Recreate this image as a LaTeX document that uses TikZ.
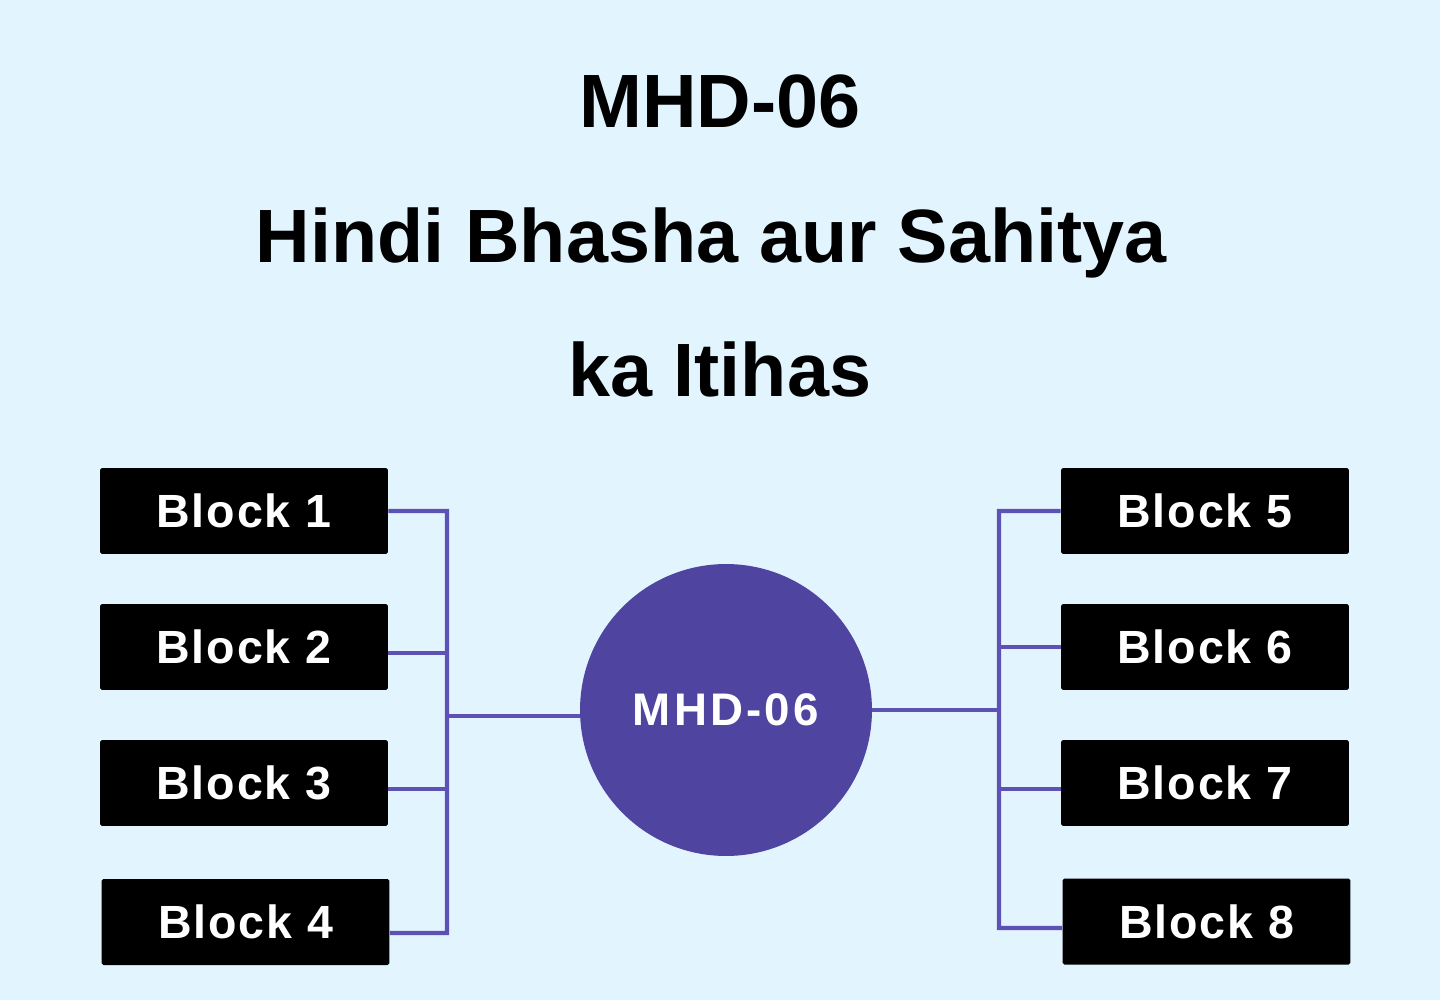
\documentclass[tikz,border=0pt]{standalone}
\usepackage{fontspec}
\setmainfont{Liberation Sans}
\newfontfamily\blockfont[LetterSpace=4]{Liberation Sans}
\newfontfamily\hubfont[LetterSpace=7]{Liberation Sans}

\definecolor{bgblue}{HTML}{E2F5FE}
\definecolor{hubpurple}{HTML}{4F44A0}
\definecolor{linkpurple}{HTML}{5D52B4}

\begin{document}
\begin{tikzpicture}[x=0.02cm,y=-0.02cm,
  title/.style={anchor=base,font=\bfseries\fontsize{43}{50}\selectfont},
  block/.style={fill=black,rounded corners=1pt,minimum width=5.76cm,minimum height=1.72cm,inner sep=0pt,text=white,font=\blockfont\bfseries\fontsize{26.5}{30}\selectfont},
  hub/.style={circle,fill=hubpurple,minimum size=5.84cm,inner sep=0pt,text=white,font=\hubfont\bfseries\fontsize{26}{30}\selectfont},
  link/.style={draw=linkpurple,line width=2.4pt}]
\fill[bgblue] (0,0) rectangle (1440,1000);

% title
\node[title] (t1) at (720,128) {MHD-06};
\node[title] (t2) at (711,262) {Hindi Bhasha aur Sahitya};
\node[title] (t3) at (720,396) {ka Itihas};

% blocks
\foreach \n/\y in {1/511,2/647,3/783} \node[block] (b\n) at (244,\y) {Block \n};
\node[block] (b4) at (245.5,922) {Block 4};
\foreach \n/\y in {5/511,6/647,7/783} \node[block] (b\n) at (1205,\y) {Block \n};
\node[block] (b8) at (1206.5,921.5) {Block 8};

\node[hub] (hub) at (726,710) {MHD-06};

% left links
\coordinate (lt) at (447,511);
\coordinate (lb) at (447,933);
\draw[link] (b1.east) -- (lt) -- (lb) -- ([yshift=-0.22cm]b4.east);
\draw[link] ([yshift=-0.12cm]b2.east) -- ++(59,0);
\draw[link] ([yshift=-0.12cm]b3.east) -- ++(59,0);
\draw[link] ([yshift=-0.12cm]hub.west) -- ++(-133,0);

% right links
\coordinate (rt) at (999,511);
\coordinate (rb) at (999,928);
\draw[link] (b5.west) -- (rt) -- (rb) -- ([yshift=-0.13cm]b8.west);
\draw[link] (b6.west) -- ++(-62,0);
\draw[link] ([yshift=-0.12cm]b7.west) -- ++(-62,0);
\draw[link] (hub.east) -- ++(127,0);
\end{tikzpicture}
\end{document}
